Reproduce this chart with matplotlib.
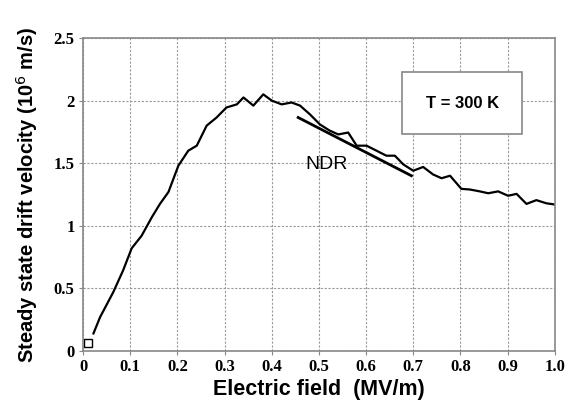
import matplotlib
matplotlib.use("Agg")
import matplotlib.pyplot as plt

# === Data ===
field = [0.022, 0.036, 0.064, 0.085, 0.103, 0.124, 0.146, 0.163, 0.181, 0.202,
         0.223, 0.241, 0.262, 0.283, 0.304, 0.326, 0.340, 0.361, 0.382, 0.400,
         0.421, 0.442, 0.460, 0.481, 0.502, 0.523, 0.541, 0.562, 0.580, 0.601,
         0.622, 0.643, 0.661, 0.679, 0.700, 0.721, 0.742, 0.760, 0.778, 0.802,
         0.820, 0.841, 0.859, 0.880, 0.901, 0.919, 0.940, 0.961, 0.982, 1.000]
velocity = [0.14, 0.27, 0.47, 0.645, 0.82, 0.92, 1.07, 1.175, 1.27, 1.48,
            1.60, 1.64, 1.80, 1.865, 1.945, 1.97, 2.025, 1.96, 2.05, 2.00,
            1.97, 1.985, 1.96, 1.89, 1.81, 1.76, 1.73, 1.745, 1.64, 1.64,
            1.60, 1.56, 1.56, 1.49, 1.44, 1.47, 1.41, 1.38, 1.40, 1.295,
            1.29, 1.275, 1.26, 1.275, 1.24, 1.255, 1.175, 1.205, 1.18, 1.17]

ndr_x = [0.456, 0.696]
ndr_y = [1.865, 1.40]

low_field_x = [0.011]
low_field_y = [0.06]

xticks = [0, 0.1, 0.2, 0.3, 0.4, 0.5, 0.6, 0.7, 0.8, 0.9, 1.0]
xtick_labels = ["0", "0.1", "0.2", "0.3", "0.4", "0.5", "0.6", "0.7", "0.8", "0.9", "1.0"]
yticks = [0, 0.5, 1, 1.5, 2, 2.5]
ytick_labels = ["0", "0.5", "1", "1.5", "2", "2.5"]

# === Plot ===
fig = plt.figure(figsize=(5.69, 4.07), dpi=100)
ax = fig.add_axes([0.146, 0.1376, 0.829, 0.769])

ax.plot(field, velocity, color="black", lw=1.6)
ax.plot(ndr_x, ndr_y, color="black", lw=2.0)
ax.plot(low_field_x, low_field_y, "s", mfc="white", mec="black", ms=6, mew=1)

ax.set_xlim(0, 1.0)
ax.set_ylim(0, 2.5)
ax.set_xticks(xticks)
ax.set_xticklabels(xtick_labels)
ax.set_yticks(yticks)
ax.set_yticklabels(ytick_labels)
for lab in ax.get_xticklabels() + ax.get_yticklabels():
    lab.set_family("Liberation Serif")
    lab.set_weight("bold")
    lab.set_fontsize(12)
ax.tick_params(length=3, color="#888888", pad=3)

ax.grid(True, linestyle=(0, (2, 1.5)), color="#999999", lw=0.8)
for sp in ax.spines.values():
    sp.set_color("#888888")
    sp.set_linewidth(1.2)

ax.set_xlabel("Electric field  (MV/m)", fontsize=15.5, fontweight="bold",
              family="Liberation Sans", labelpad=3)
ax.set_ylabel("Steady state drift velocity (10$^6$ m/s)", fontsize=14.5,
              fontweight="bold", family="Liberation Sans", labelpad=10)

ax.text(0.516, 1.49, "NDR", fontsize=14, family="Liberation Sans",
        ha="center", va="center")
ax.text(0.804, 1.98, "T = 300 K", fontsize=12, fontweight="bold",
        family="Liberation Sans", ha="center", va="center",
        bbox=dict(boxstyle="square,pad=1.4", fc="white", ec="#888888", lw=1.2))

plt.savefig("out.png", dpi=100)
